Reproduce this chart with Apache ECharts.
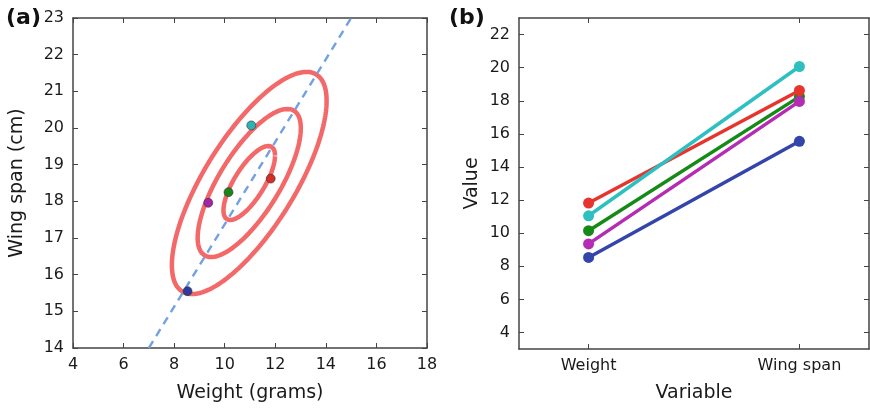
<!DOCTYPE html>
<html>
<head>
<meta charset="utf-8">
<script src="https://cdn.jsdelivr.net/npm/echarts@6/dist/echarts.min.js"></script>
<style>
html,body{margin:0;padding:0;background:#fff;}
#chart{width:870px;height:408px;}
</style>
</head>
<body>
<div id="chart"></div>
<script>
// ---- data ----
const birds = ['blue', 'green', 'red', 'cyan', 'magenta'];
const weight = [8.53, 10.15, 11.82, 11.05, 9.35];
const wingSpan = [15.55, 18.25, 18.62, 20.07, 17.96];
const variables = ['Weight', 'Wing span'];
const variablePos = [0, 1];

// panel (b) ticks
const bYTicks = [4, 6, 8, 10, 12, 14, 16, 18, 20, 22];

// contour model
const contourCenter = [10.97, 18.5];
const contourSigma = [1.02, 1.01];
const contourRho = 0.74;
const contourLevels = [1, 2, 3];
// dashed reference line end points
const refLine = [[7, 14], [15, 23]];

// ---- styles ----
const lineColors = ['#3344aa', '#168a16', '#e6352d', '#2ec0c0', '#b42cb4'];
const dotColors = ['#2c3c9e', '#1a861a', '#d42e2a', '#2cb4b4', '#a424a4'];
const FONT = 'DejaVu Sans';
const axisColor = '#444';
const textColor = '#1a1a1a';

function ellipse(k) {
  const pts = [];
  const n = 240;
  for (let i = 0; i <= n; i++) {
    const t = 2 * Math.PI * i / n;
    const x = contourCenter[0] + k * contourSigma[0] * Math.cos(t);
    const y = contourCenter[1] + k * contourSigma[1] *
      (contourRho * Math.cos(t) + Math.sqrt(1 - contourRho * contourRho) * Math.sin(t));
    pts.push([x, y]);
  }
  return pts;
}

function tickStyle(custom) {
  const t = { show: true, inside: true, length: 5, lineStyle: { color: axisColor, width: 1 } };
  if (custom) t.customValues = custom;
  return t;
}

function baseAxis(extra) {
  return Object.assign({
    type: 'value',
    splitLine: { show: false },
    axisLine: { show: true, onZero: false, lineStyle: { color: axisColor, width: 1.5 } },
    axisTick: tickStyle(),
    axisLabel: { show: true, color: textColor, fontFamily: FONT, fontSize: 16, margin: 9 },
    nameTextStyle: { color: textColor, fontFamily: FONT, fontSize: 19 },
    nameLocation: 'middle'
  }, extra);
}

const xAxis = [
  baseAxis({ gridIndex: 0, position: 'bottom', min: 4, max: 18, interval: 2,
    name: 'Weight (grams)', nameGap: 36 }),
  baseAxis({ gridIndex: 0, position: 'top', min: 4, max: 18, interval: 2,
    axisLabel: { show: false } }),
  baseAxis({ gridIndex: 1, position: 'bottom', min: -0.33, max: 1.33,
    name: 'Variable', nameGap: 35,
    axisTick: tickStyle(variablePos),
    axisLabel: { show: true, color: textColor, fontFamily: FONT, fontSize: 16, margin: 9,
      customValues: variablePos, formatter: v => variables[Math.round(v)] } }),
  baseAxis({ gridIndex: 1, position: 'top', min: -0.33, max: 1.33,
    axisTick: tickStyle(variablePos),
    axisLabel: { show: false } })
];

const yAxis = [
  baseAxis({ gridIndex: 0, position: 'left', min: 14, max: 23, interval: 1,
    name: 'Wing span (cm)', nameGap: 46 }),
  baseAxis({ gridIndex: 0, position: 'right', min: 14, max: 23, interval: 1,
    axisLabel: { show: false } }),
  baseAxis({ gridIndex: 1, position: 'left', min: 3, max: 23,
    name: 'Value', nameGap: 37,
    axisTick: tickStyle(bYTicks),
    axisLabel: { show: true, color: textColor, fontFamily: FONT, fontSize: 16, margin: 9,
      customValues: bYTicks } }),
  baseAxis({ gridIndex: 1, position: 'right', min: 3, max: 23,
    axisTick: tickStyle(bYTicks),
    axisLabel: { show: false } })
];

const series = [];
// contours
contourLevels.forEach(k => {
  series.push({
    type: 'line', xAxisIndex: 0, yAxisIndex: 0, data: ellipse(k),
    showSymbol: false, silent: true, z: 2,
    lineStyle: { color: '#f36868', width: 4.5 }
  });
});
// dashed line
series.push({
  type: 'line', xAxisIndex: 0, yAxisIndex: 0, data: refLine,
  showSymbol: false, silent: true, z: 3,
  lineStyle: { color: '#72a0e2', width: 2.4, type: [8, 6] }
});
// scatter points in panel (a)
birds.forEach((b, i) => {
  series.push({
    name: b, type: 'scatter', xAxisIndex: 0, yAxisIndex: 0,
    data: [[weight[i], wingSpan[i]]], symbolSize: 9, z: 5,
    itemStyle: { color: dotColors[i], borderColor: '#333', borderWidth: 0.6, opacity: 1 }
  });
});
// lines in panel (b)
birds.forEach((b, i) => {
  series.push({
    name: b + ' b', type: 'line', xAxisIndex: 2, yAxisIndex: 2,
    data: [[variablePos[0], weight[i]], [variablePos[1], wingSpan[i]]],
    symbol: 'circle', symbolSize: 11, showSymbol: true, z: 5 + i,
    lineStyle: { color: lineColors[i], width: 3.5 },
    itemStyle: { color: lineColors[i], borderWidth: 0 }
  });
});

const option = {
  animation: false,
  backgroundColor: '#fff',
  textStyle: { fontFamily: FONT },
  grid: [
    { left: 73, top: 18, width: 354, height: 333 },
    { left: 519, top: 18, width: 350, height: 333 }
  ],
  xAxis: xAxis,
  yAxis: yAxis,
  series: series,
  graphic: [
    { type: 'text', left: 6, top: 7, style: { text: '(a)', font: 'bold 22px "DejaVu Sans"', fill: '#111' } },
    { type: 'text', left: 449, top: 7, style: { text: '(b)', font: 'bold 22px "DejaVu Sans"', fill: '#111' } }
  ]
};

const chart = echarts.init(document.getElementById('chart'), null, { renderer: 'canvas' });
chart.setOption(option);
</script>
</body>
</html>
